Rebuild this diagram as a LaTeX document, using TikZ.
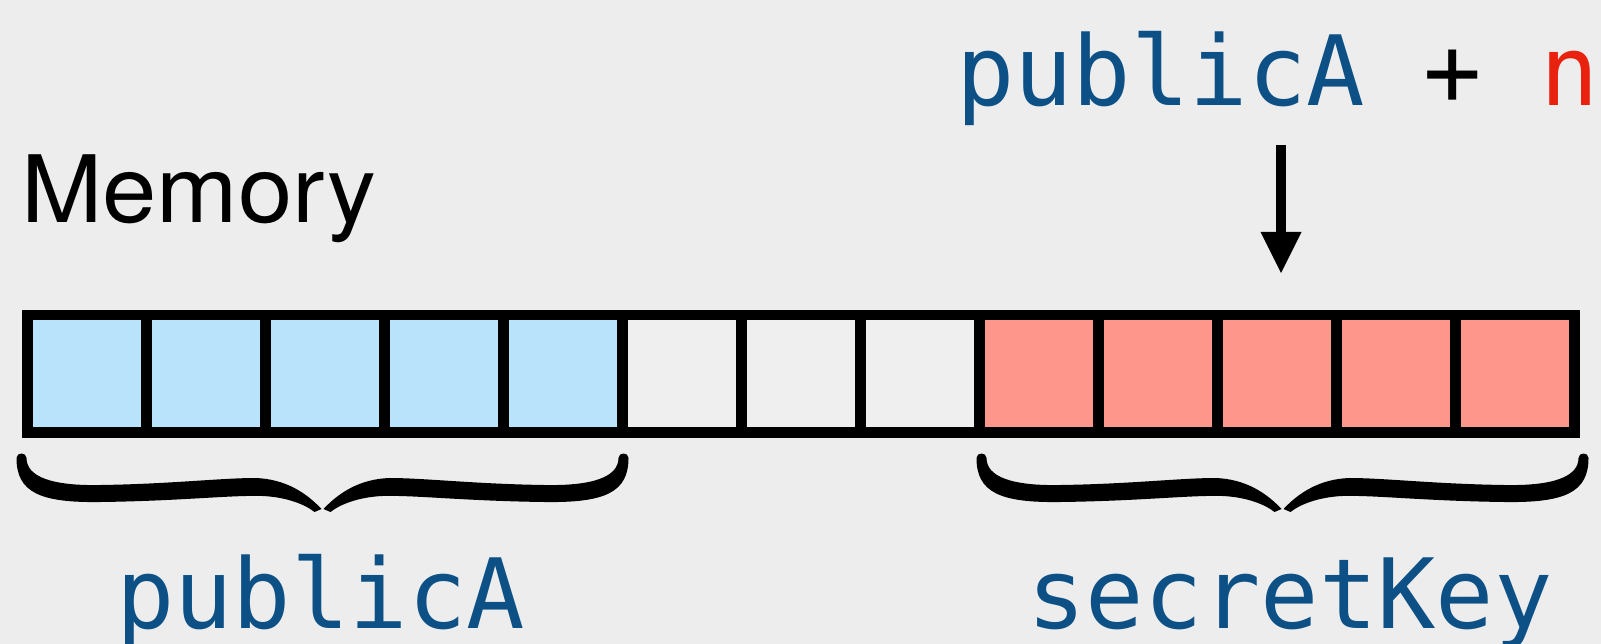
\documentclass[tikz,border=0pt]{standalone}
\usepackage{fontspec}
\setmainfont{TeX Gyre Heros}
\newfontfamily\codefont{DejaVu Sans Mono}
\usetikzlibrary{arrows.meta}
\definecolor{bgc}{HTML}{EDEDED}
\definecolor{pubfill}{HTML}{B8E3FA}
\definecolor{secfill}{HTML}{FF968C}
\definecolor{emptyfill}{HTML}{EFEFEF}
\definecolor{codeblue}{HTML}{0C5085}
\definecolor{nred}{HTML}{E8220E}
\tikzset{
  cellbox/.style={draw=black, line width=10.5pt, minimum width=119pt, minimum height=117.5pt, inner sep=0pt, outer sep=0pt},
  codetext/.style={font=\codefont\fontsize{97}{110}\selectfont, text=codeblue, inner sep=0pt, anchor=base west},
  halfbrace/.pic={
    \fill[black] (-306,0) .. controls (-306,34) and (-283,45) .. (-222,44)
      .. controls (-142,43) and (-92,37) .. (-60,38)
      .. controls (-37,39) and (-18,46) .. (-8,54)
      -- (-1,51)
      .. controls (-16,35) and (-37,21) .. (-67,20)
      .. controls (-102,20) and (-152,26) .. (-222,27)
      .. controls (-270,28) and (-296,19) .. (-296,0)
      .. controls (-296,-6) and (-306,-6) .. (-306,0) -- cycle;
  }
}
\begin{document}
\begin{tikzpicture}[x=1pt,y=-1pt]
\fill[bgc] (0,0) rectangle (1601,644);
\useasboundingbox (0,0) rectangle (1601,644);
% memory cells
\foreach \i in {1,...,13}{
  \ifnum\i<6 \def\cf{pubfill}\else\ifnum\i<9 \def\cf{emptyfill}\else\def\cf{secfill}\fi\fi
  \node[cellbox, fill=\cf] (c\i) at ({27.5+(\i-0.5)*119},373.75) {};
}
% braces
\pic at (322.5,458) {halfbrace};
\pic[xscale=-1] at (322.5,458) {halfbrace};
\pic at (1282.5,458) {halfbrace};
\pic[xscale=-1] at (1282.5,458) {halfbrace};
% labels
\node[anchor=base west, inner sep=0pt, font=\fontsize{93}{100}\selectfont] (mem) at (21,223) {\scalebox{1.05}[1]{Memory}};
\node[codetext] (top) at (956,106) {publicA {\color{black}+} {\color{nred}n}};
\node[codetext] (pubA) at (116,628) {publicA};
\node[codetext] (secK) at (1027,628) {secretKey};
% arrow
\coordinate (atop) at (1281,145);
\coordinate (abot) at (1281,273);
\draw[line width=10pt, -{Triangle[length=41pt,width=41pt,line width=0pt]}] (atop) -- (abot);
\end{tikzpicture}
\end{document}
